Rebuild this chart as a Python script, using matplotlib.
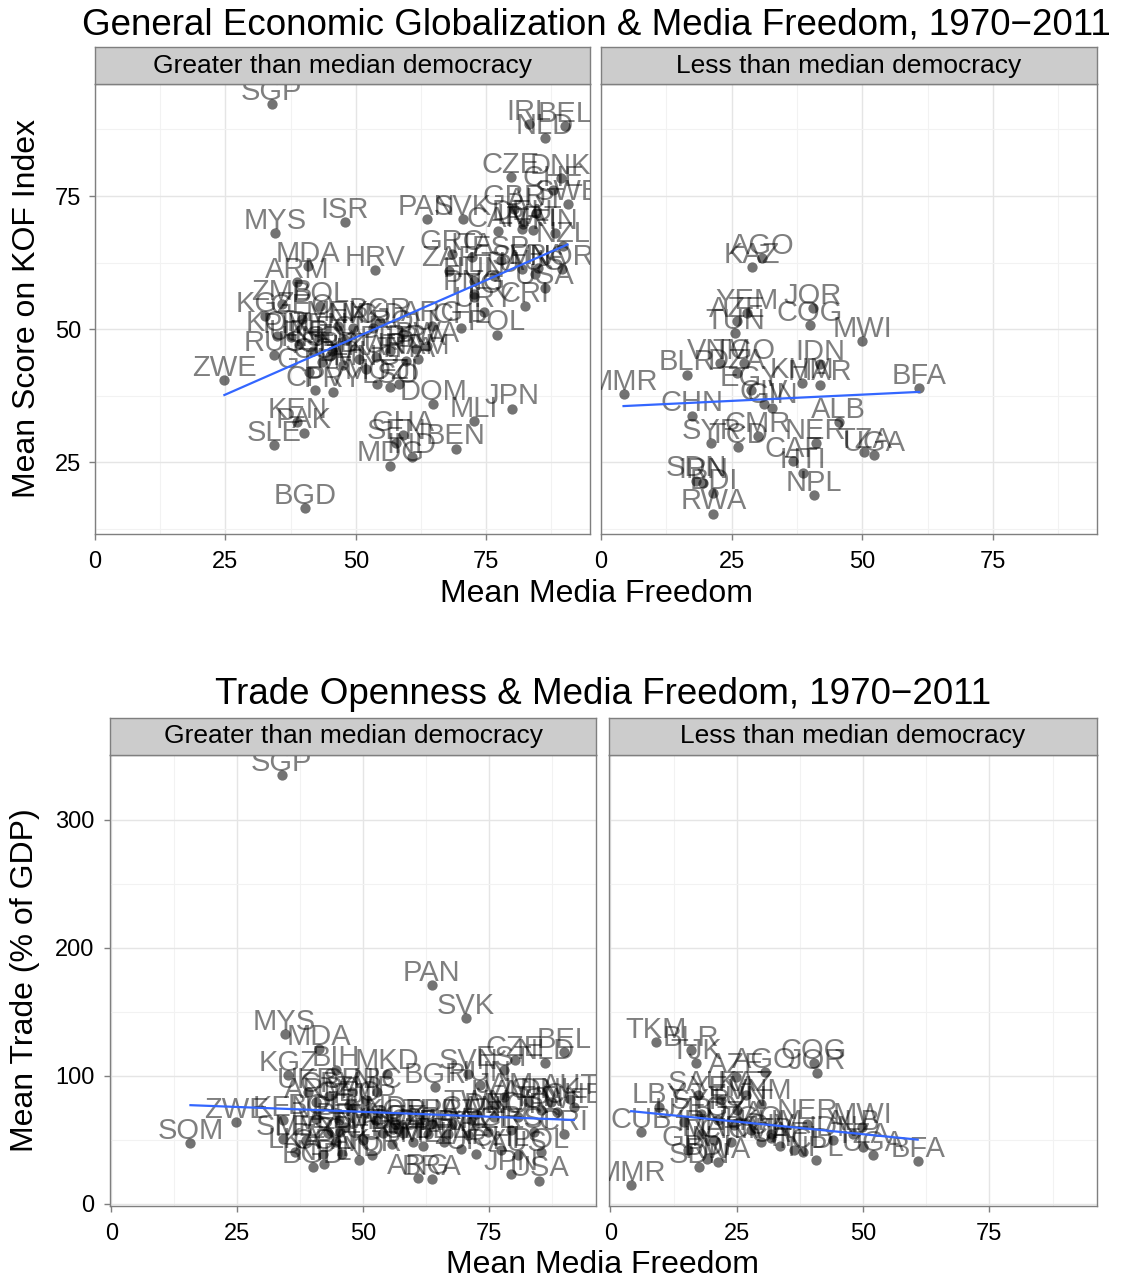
import numpy as np
import matplotlib
matplotlib.use("Agg")
import matplotlib.pyplot as plt

plt.rcParams['font.family'] = ['Liberation Sans', 'DejaVu Sans']

# ---- KOF index, greater than median democracy
kof_hi_code = ['SGP', 'IRL', 'BEL', 'NLD', 'CZE', 'DNK', 'CHE', 'SWE', 'AUT', 'GBR',
               'DEU', 'CAN', 'LVA', 'FIN', 'NZL', 'PRT', 'GRC', 'ITA', 'ESP', 'FRA',
               'ZAF', 'HUN', 'AUS', 'USA', 'LTU', 'SVN', 'NOR', 'PNG', 'URY', 'CRI',
               'POL', 'TTO', 'PAN', 'SVK', 'ISR', 'MYS', 'MDA', 'HRV', 'ARM', 'ZMB',
               'BOL', 'KGZ', 'GEO', 'KOR', 'PHL', 'UKR', 'MEX', 'MKD', 'BGR', 'ROU',
               'BRA', 'ARG', 'CHL', 'NIC', 'SLV', 'RUS', 'HND', 'ECU', 'PER', 'THA',
               'TUR', 'LKA', 'SRB', 'BIH', 'COL', 'MNG', 'GTM', 'BWA', 'NAM', 'CPV',
               'PRY', 'MOZ', 'LSO', 'FJI', 'VEN', 'ZWE', 'DOM', 'JPN', 'MLI', 'KEN',
               'PAK', 'SLE', 'GHA', 'SEN', 'IND', 'MDG', 'BEN', 'BGD']
kof_hi_x = [33.9, 83.3, 90.1, 86.2, 79.7, 89.3, 87.8, 90.6, 84.6, 80.4,
            82.0, 77.2, 81.8, 88.2, 89.7, 84.0, 68.4, 72.2, 77.8, 84.9,
            67.8, 72.7, 84.3, 86.2, 76.5, 81.8, 89.5, 72.7, 74.6, 82.4,
            77.1, 72.7, 63.6, 70.5, 47.9, 34.5, 40.9, 53.6, 38.8, 35.9,
            43.2, 32.6, 39.7, 34.9, 37.5, 39.1, 46.5, 53.3, 54.6, 59.1,
            61.6, 64.7, 70.2, 49.4, 45.5, 34.4, 41.7, 48.0, 56.5, 59.7,
            53.9, 50.7, 45.0, 47.5, 43.5, 52.0, 41.0, 63.6, 62.0, 42.2,
            45.7, 54.1, 56.6, 58.3, 43.0, 24.8, 64.9, 80.0, 72.7, 38.8,
            40.0, 34.3, 59.1, 57.8, 60.7, 56.6, 69.2, 40.3]
kof_hi_y = [92.2, 88.5, 88.1, 85.9, 78.5, 78.4, 76.2, 73.5, 71.9, 72.5,
            69.7, 68.4, 68.9, 68.1, 65.6, 68.6, 64.1, 63.5, 63.0, 61.5,
            61.0, 59.1, 60.4, 57.8, 60.0, 61.3, 61.3, 56.6, 53.3, 54.4,
            49.0, 56.0, 70.7, 70.7, 70.1, 68.1, 61.9, 61.1, 58.8, 54.8,
            54.4, 52.5, 52.0, 48.8, 48.5, 47.2, 50.7, 50.3, 51.3, 49.1,
            46.3, 50.7, 50.3, 50.3, 46.0, 45.2, 46.0, 48.0, 46.0, 44.1,
            44.7, 44.4, 45.0, 43.2, 43.8, 42.5, 41.9, 46.9, 44.5, 38.5,
            38.3, 39.8, 39.2, 39.8, 48.5, 40.4, 35.9, 35.1, 32.7, 32.5,
            30.6, 28.2, 30.1, 28.6, 26.0, 24.4, 27.6, 16.4]

# ---- KOF index, less than median democracy
kof_lo_code = ['AGO', 'KAZ', 'YEM', 'AZE', 'TUN', 'JOR', 'COG', 'MWI', 'VNM', 'TGO',
               'DZA', 'BLR', 'MMR', 'IDN', 'KHM', 'MAR', 'EGY', 'CIV', 'GIN', 'BFA',
               'CHN', 'ALB', 'SYR', 'TCD', 'CMR', 'NER', 'CAF', 'HTI', 'UGA', 'TZA',
               'NPL', 'SDN', 'IRN', 'BDI', 'RWA']
kof_lo_x = [30.8, 28.9, 27.9, 26.0, 25.6, 40.5, 39.9, 50.0, 22.7, 27.3,
            26.0, 16.5, 4.3, 41.9, 38.4, 41.9, 28.6, 31.2, 32.8, 60.9,
            17.4, 45.5, 21.1, 26.3, 30.0, 41.1, 36.8, 38.6, 52.3, 50.4,
            40.7, 18.2, 19.5, 21.5, 21.5]
kof_lo_y = [63.4, 61.7, 53.1, 51.6, 49.3, 54.0, 50.8, 47.7, 43.7, 43.7,
            41.7, 41.5, 37.9, 43.4, 40.0, 39.6, 38.5, 36.0, 35.3, 39.0,
            33.8, 32.5, 28.7, 27.8, 29.9, 28.6, 25.2, 23.1, 26.3, 26.9,
            18.8, 21.6, 21.2, 19.2, 15.4]

# ---- trade openness, greater than median democracy
trade_hi_code = ['SGP', 'PAN', 'SVK', 'MYS', 'MDA', 'BEL', 'NLD', 'CZE', 'EST', 'ZWE',
                 'SOM', 'KGZ', 'BIH', 'MKD', 'UKR', 'SRB', 'BGR', 'HUN', 'SVN', 'JAM',
                 'TWN', 'DNK', 'ARM', 'GEO', 'ZMB', 'NIC', 'HND', 'KEN', 'SLE', 'BOL',
                 'PHL', 'KOR', 'THA', 'MEX', 'ECU', 'PER', 'GTM', 'LKA', 'COL', 'PAK',
                 'TUR', 'IND', 'BGD', 'NPL', 'ARG', 'BRA', 'JPN', 'USA', 'AUS', 'ISR',
                 'AUT', 'CHE', 'SWE', 'FIN', 'NOR', 'DEU', 'CAN', 'PRT', 'GBR', 'FRA',
                 'ITA', 'NZL', 'GRC', 'ESP', 'CRI', 'ZAF', 'URY', 'CHL', 'POL', 'DOM',
                 'GHA', 'SEN', 'MLI', 'BEN', 'MDG', 'MOZ', 'FJI', 'CPV', 'PRY', 'SLV',
                 'VEN', 'LVA']
trade_hi_x = [33.8, 63.6, 70.5, 34.4, 41.3, 89.9, 86.2, 80.1, 78.0, 24.8,
              15.7, 35.1, 44.6, 54.8, 39.0, 47.9, 64.3, 73.2, 70.9, 78.1,
              72.5, 87.3, 40.7, 47.2, 50.5, 52.8, 52.5, 34.1, 34.1, 40.7,
              45.3, 56.4, 63.6, 38.7, 44.6, 49.9, 55.8, 36.4, 42.0, 45.9,
              51.8, 49.2, 40.0, 42.3, 61.0, 63.6, 79.4, 85.0, 80.7, 82.7,
              91.2, 91.9, 88.6, 85.3, 80.7, 76.1, 71.5, 67.6, 63.0, 66.9,
              70.9, 74.8, 79.4, 84.0, 89.9, 69.5, 72.5, 77.4, 85.3, 58.0,
              60.0, 57.0, 62.0, 66.0, 54.0, 56.0, 48.0, 43.3, 46.5, 45.5,
              43.0, 76.5]
trade_hi_y = [334.6, 170.8, 145.0, 132.4, 120.7, 118.6, 109.7, 112.0, 104.5, 63.5,
              47.0, 100.3, 104.2, 101.6, 87.2, 87.2, 91.2, 92.5, 101.6, 83.3,
              70.0, 79.4, 79.4, 76.8, 80.7, 87.2, 65.0, 65.0, 50.7, 66.4,
              65.0, 62.5, 62.5, 49.4, 48.0, 49.4, 46.8, 40.2, 39.0, 39.0,
              37.6, 33.7, 28.5, 31.1, 19.6, 19.4, 23.3, 18.0, 37.6, 79.4,
              82.0, 75.5, 71.6, 72.9, 67.6, 67.6, 65.0, 62.5, 54.6, 54.6,
              53.3, 55.9, 57.2, 55.9, 54.6, 42.9, 39.0, 41.5, 40.2, 55.0,
              48.0, 58.0, 45.0, 48.0, 55.0, 58.5, 75.0, 84.0, 60.0, 56.0,
              55.0, 78.0]

# ---- trade openness, less than median democracy
trade_lo_code = ['TKM', 'BLR', 'TJK', 'COG', 'JOR', 'AGO', 'AZE', 'KAZ', 'LBY', 'SAU',
                 'UZB', 'CUB', 'MMR', 'MWI', 'UGA', 'TZA', 'BFA', 'NPL', 'YEM', 'TUN',
                 'VNM', 'SYR', 'EGY', 'DZA', 'IRN', 'TGO', 'KHM', 'CMR', 'CIV', 'MAR',
                 'CHN', 'SDN', 'RWA', 'BDI', 'GIN', 'HTI', 'TCD', 'CAF', 'NER', 'IDN',
                 'ALB']
trade_lo_x = [9.1, 15.9, 16.9, 40.2, 40.9, 30.5, 24.8, 26.8, 9.7, 17.3,
              14.6, 6.1, 4.1, 49.8, 52.0, 50.0, 60.8, 40.6, 21.9, 25.1,
              29.7, 17.9, 21.2, 24.5, 17.9, 27.8, 31.7, 29.7, 31.7, 20.5,
              23.8, 17.6, 21.2, 19.2, 15.3, 36.3, 38.2, 33.5, 38.9, 44.1,
              48.0]
trade_lo_y = [126.2, 119.9, 109.5, 109.7, 101.9, 103.0, 98.7, 84.6, 75.5, 84.6,
              63.7, 55.9, 14.1, 60.0, 37.6, 44.0, 32.9, 33.7, 80.7, 72.9,
              78.1, 70.3, 65.0, 61.1, 54.6, 57.2, 54.6, 48.0, 50.9, 49.4,
              48.0, 28.5, 32.4, 35.0, 41.5, 41.5, 40.0, 45.0, 62.5, 49.4,
              54.6]

W, H = 1121, 1280
fig = plt.figure(figsize=(W / 100, H / 100), dpi=100)
fig.patch.set_facecolor('white')

GREY50 = '#7F7F7F'


def add_px(x0, y0, x1, y1):
    return fig.add_axes([x0 / W, 1 - y1 / H, (x1 - x0) / W, (y1 - y0) / H])


def expand(vals):
    lo, hi = min(vals), max(vals)
    pad = (hi - lo) * 0.05
    return lo - pad, hi + pad


def draw_panel(ax, codes, xs, ys, xlim, ylim, xmaj, ymaj, xmin, ymin, show_y, ypad):
    ax.set_xlim(xlim)
    ax.set_ylim(ylim)
    ax.set_xticks(xmaj)
    ax.set_yticks(ymaj)
    ax.set_xticks(xmin, minor=True)
    ax.set_yticks(ymin, minor=True)
    ax.grid(True, which='major', color='#E5E5E5', lw=1.0, zorder=0)
    ax.grid(True, which='minor', color='#F2F2F2', lw=0.8, zorder=0)
    ax.set_axisbelow(True)
    for s in ax.spines.values():
        s.set_color(GREY50)
        s.set_linewidth(1.0)
    ax.tick_params(which='major', length=4, width=1, color=GREY50,
                   labelsize=17, labelcolor='black')
    ax.tick_params(axis='x', pad=8.5)
    ax.tick_params(axis='y', pad=ypad)
    ax.tick_params(which='minor', length=0)
    if not show_y:
        ax.tick_params(axis='y', labelleft=False, length=0)

    ax.scatter(xs, ys, s=55, color='black', alpha=0.55, lw=0, zorder=3)
    for c, x, y in zip(codes, xs, ys):
        ax.annotate(c, (x, y), xytext=(0, 3), textcoords='offset points',
                    ha='center', va='baseline', fontsize=21, color='black',
                    alpha=0.5, clip_on=True, zorder=4)

    k, b = np.polyfit(xs, ys, 1)
    lx = np.array([min(xs), max(xs)])
    ax.plot(lx, k * lx + b, color='#3366FF', lw=1.6, zorder=5)


def draw_strip(x0, y0, x1, y1, label):
    s = add_px(x0, y0, x1, y1)
    s.set_facecolor('#CCCCCC')
    s.set_xticks([])
    s.set_yticks([])
    for sp in s.spines.values():
        sp.set_color(GREY50)
        sp.set_linewidth(1.0)
    s.text(0.5, 0.5, label, ha='center', va='center', fontsize=19,
           transform=s.transAxes)


facet_labels = ['Greater than median democracy', 'Less than median democracy']

# ---- top plot
xl = expand(kof_hi_x + kof_lo_x)
yl = expand(kof_hi_y + kof_lo_y)
xmaj = [0, 25, 50, 75]
xmin = [12.5, 37.5, 62.5, 87.5]
top_panels = [(95, 84, 590, 534), (601, 84, 1097, 534)]
top_data = [(kof_hi_code, kof_hi_x, kof_hi_y), (kof_lo_code, kof_lo_x, kof_lo_y)]
for i, ((x0, y0, x1, y1), (c, xs, ys)) in enumerate(zip(top_panels, top_data)):
    ax = add_px(x0, y0, x1, y1)
    draw_panel(ax, c, xs, ys, xl, yl, xmaj, [25, 50, 75], xmin,
               [12.5, 37.5, 62.5, 87.5], i == 0, 6)
    draw_strip(x0, 47, x1, y0, facet_labels[i])

fig.text(596 / W, 1 - 25 / H, 'General Economic Globalization & Media Freedom, 1970\u22122011',
         ha='center', va='center', fontsize=26.5)
fig.text(596 / W, 1 - 594 / H, 'Mean Media Freedom', ha='center', va='center', fontsize=23)
fig.text(27 / W, 1 - 309 / H, 'Mean Score on KOF Index', ha='center', va='center',
         rotation=90, fontsize=23)

# ---- bottom plot
xl = expand(trade_hi_x + trade_lo_x)
yl = expand(trade_hi_y + trade_lo_y)
bot_panels = [(110, 755, 596, 1206), (609, 755, 1097, 1206)]
bot_data = [(trade_hi_code, trade_hi_x, trade_hi_y), (trade_lo_code, trade_lo_x, trade_lo_y)]
for i, ((x0, y0, x1, y1), (c, xs, ys)) in enumerate(zip(bot_panels, bot_data)):
    ax = add_px(x0, y0, x1, y1)
    draw_panel(ax, c, xs, ys, xl, yl, xmaj, [0, 100, 200, 300], xmin,
               [50, 150, 250], i == 0, 7)
    draw_strip(x0, 718, x1, y0, facet_labels[i])

fig.text(603 / W, 1 - 694 / H, 'Trade Openness & Media Freedom, 1970\u22122011',
         ha='center', va='center', fontsize=26.5)
fig.text(603 / W, 1 - 1265 / H, 'Mean Media Freedom', ha='center', va='center', fontsize=23)
fig.text(25 / W, 1 - 980 / H, 'Mean Trade (% of GDP)', ha='center', va='center',
         rotation=90, fontsize=23)

fig.savefig('out.png', dpi=100)
